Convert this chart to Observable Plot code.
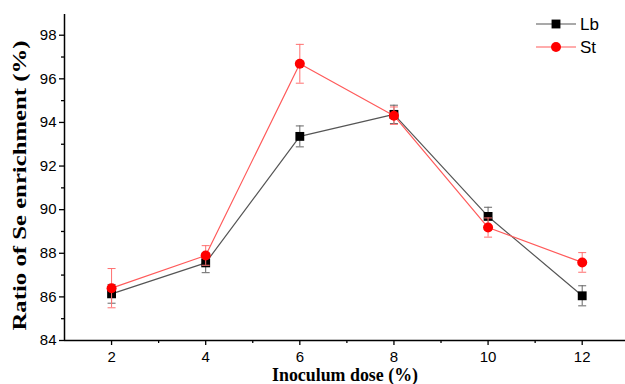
<!DOCTYPE html>
<html>
<head>
<meta charset="utf-8">
<script src="https://cdn.jsdelivr.net/npm/d3@7"></script>
<script src="https://cdn.jsdelivr.net/npm/@observablehq/plot@0.6"></script>
<style>
  html, body { margin: 0; padding: 0; background: #fff; }
  #wrap { position: relative; width: 625px; height: 384px; overflow: hidden; }
  #legend { position: absolute; left: 530px; top: 12px; }
</style>
</head>
<body>
<div id="wrap"><div id="legend"></div></div>
<script>
// Inoculum dose (%) and Se enrichment ratio (%) with standard deviations
const doses = [2, 4, 6, 8, 10, 12];
const lbMean = [86.14, 87.56, 93.36, 94.37, 89.69, 86.05];
const lbErr  = [0.43, 0.45, 0.48, 0.42, 0.42, 0.46];
const stMean = [86.40, 87.90, 96.69, 94.31, 89.18, 87.58];
const stErr  = [0.90, 0.45, 0.89, 0.40, 0.44, 0.45];
const xMajor = [2, 4, 6, 8, 10, 12];
const xMinor = [3, 5, 7, 9, 11];
const yMajor = [84, 86, 88, 90, 92, 94, 96, 98];
const yMinor = [85, 87, 89, 91, 93, 95, 97];
const xTitle = "Inoculum dose (%)";
const yTitle = "Ratio of Se enrichment (%)";

const series = [
  {name: "Lb", mean: lbMean, err: lbErr, line: "#555555", fill: "#000000", bar: "#666666", symbol: "square"},
  {name: "St", mean: stMean, err: stErr, line: "#ff5a5a", fill: "#ff0000", bar: "#ff7070", symbol: "circle"}
];

const rows = series.flatMap(s => doses.map((d, i) => ({
  series: s.name, dose: d, mean: s.mean[i], lo: s.mean[i] - s.err[i], hi: s.mean[i] + s.err[i]
})));

// short horizontal stroke used as error-bar cap
const cap = {draw(ctx) { ctx.moveTo(-4, 0); ctx.lineTo(4, 0); }};

const marks = [];
for (const s of series) {
  const data = rows.filter(r => r.series === s.name);
  marks.push(
    Plot.line(data, {x: "dose", y: "mean", stroke: s.line, strokeWidth: 1.2}),
    Plot.ruleX(data, {x: "dose", y1: "lo", y2: "hi", stroke: s.bar, strokeWidth: 1}),
    Plot.dot(data, {x: "dose", y: "lo", symbol: cap, stroke: s.bar, strokeWidth: 1}),
    Plot.dot(data, {x: "dose", y: "hi", symbol: cap, stroke: s.bar, strokeWidth: 1}),
    Plot.dot(data, {x: "dose", y: "mean", symbol: s.symbol, fill: s.fill, r: 5})
  );
}

const serif = "'Liberation Serif', 'Times New Roman', serif";

const chart = Plot.plot({
  width: 625,
  height: 384,
  marginLeft: 64,
  marginRight: 0,
  marginTop: 14,
  marginBottom: 44,
  style: {fontFamily: "'Liberation Sans', Arial, sans-serif", fontSize: "15px", color: "#000", background: "#fff"},
  x: {domain: [1, 12.92]},
  y: {domain: [84, 98.95]},
  marks: [
    Plot.axisX({ticks: xMajor, tickSize: 5, tickPadding: 6, tickFormat: d => d, label: null, strokeWidth: 1.3}),
    Plot.axisX({ticks: xMinor, tickSize: 3, tickFormat: () => "", label: null, strokeWidth: 1.3}),
    Plot.axisY({ticks: yMajor, tickSize: 5, tickPadding: 3, tickFormat: d => d, label: null, strokeWidth: 1.3}),
    Plot.axisY({ticks: yMinor, tickSize: 3, tickFormat: () => "", label: null, strokeWidth: 1.3}),
    Plot.ruleY([84], {stroke: "#000", strokeWidth: 1.5}),
    Plot.ruleX([1], {stroke: "#000", strokeWidth: 1.5}),
    ...marks,
    Plot.text([xTitle], {frameAnchor: "bottom", dy: 35, lineAnchor: "middle", textAnchor: "middle",
      fontFamily: serif, fontWeight: "bold", fontSize: 18, fill: "#000"}),
    Plot.text([yTitle], {frameAnchor: "left", dx: -45, dy: 8, rotate: -90, lineAnchor: "middle", textAnchor: "middle",
      fontFamily: serif, fontWeight: "bold", fontSize: 19, fill: "#000"})
  ]
});

// axis titles use condensed glyphs: fix their run length
d3.select(chart).selectAll("text").each(function() {
  const t = this.textContent;
  if (t === xTitle) d3.select(this).attr("textLength", 146).attr("lengthAdjust", "spacingAndGlyphs");
  if (t === yTitle) d3.select(this).attr("textLength", 290).attr("lengthAdjust", "spacingAndGlyphs");
});
document.getElementById("wrap").prepend(chart);

// Legend: sample line with marker, then series name
const lg = d3.select("#legend").append("svg").attr("width", 90).attr("height", 50)
  .style("font-family", "'Liberation Sans', Arial, sans-serif").style("font-size", "17px");
series.forEach((s, i) => {
  const g = lg.append("g").attr("transform", `translate(0,${12 + i * 23})`);
  g.append("line").attr("x1", 6).attr("x2", 46).attr("stroke", s.line).attr("stroke-width", 1.2);
  g.append("path").attr("transform", "translate(26,0)")
    .attr("d", d3.symbol(s.symbol === "square" ? d3.symbolSquare : d3.symbolCircle, 25 * Math.PI)())
    .attr("fill", s.fill);
  g.append("text").attr("x", 50).attr("dy", "0.36em").text(s.name);
});
</script>
</body>
</html>
